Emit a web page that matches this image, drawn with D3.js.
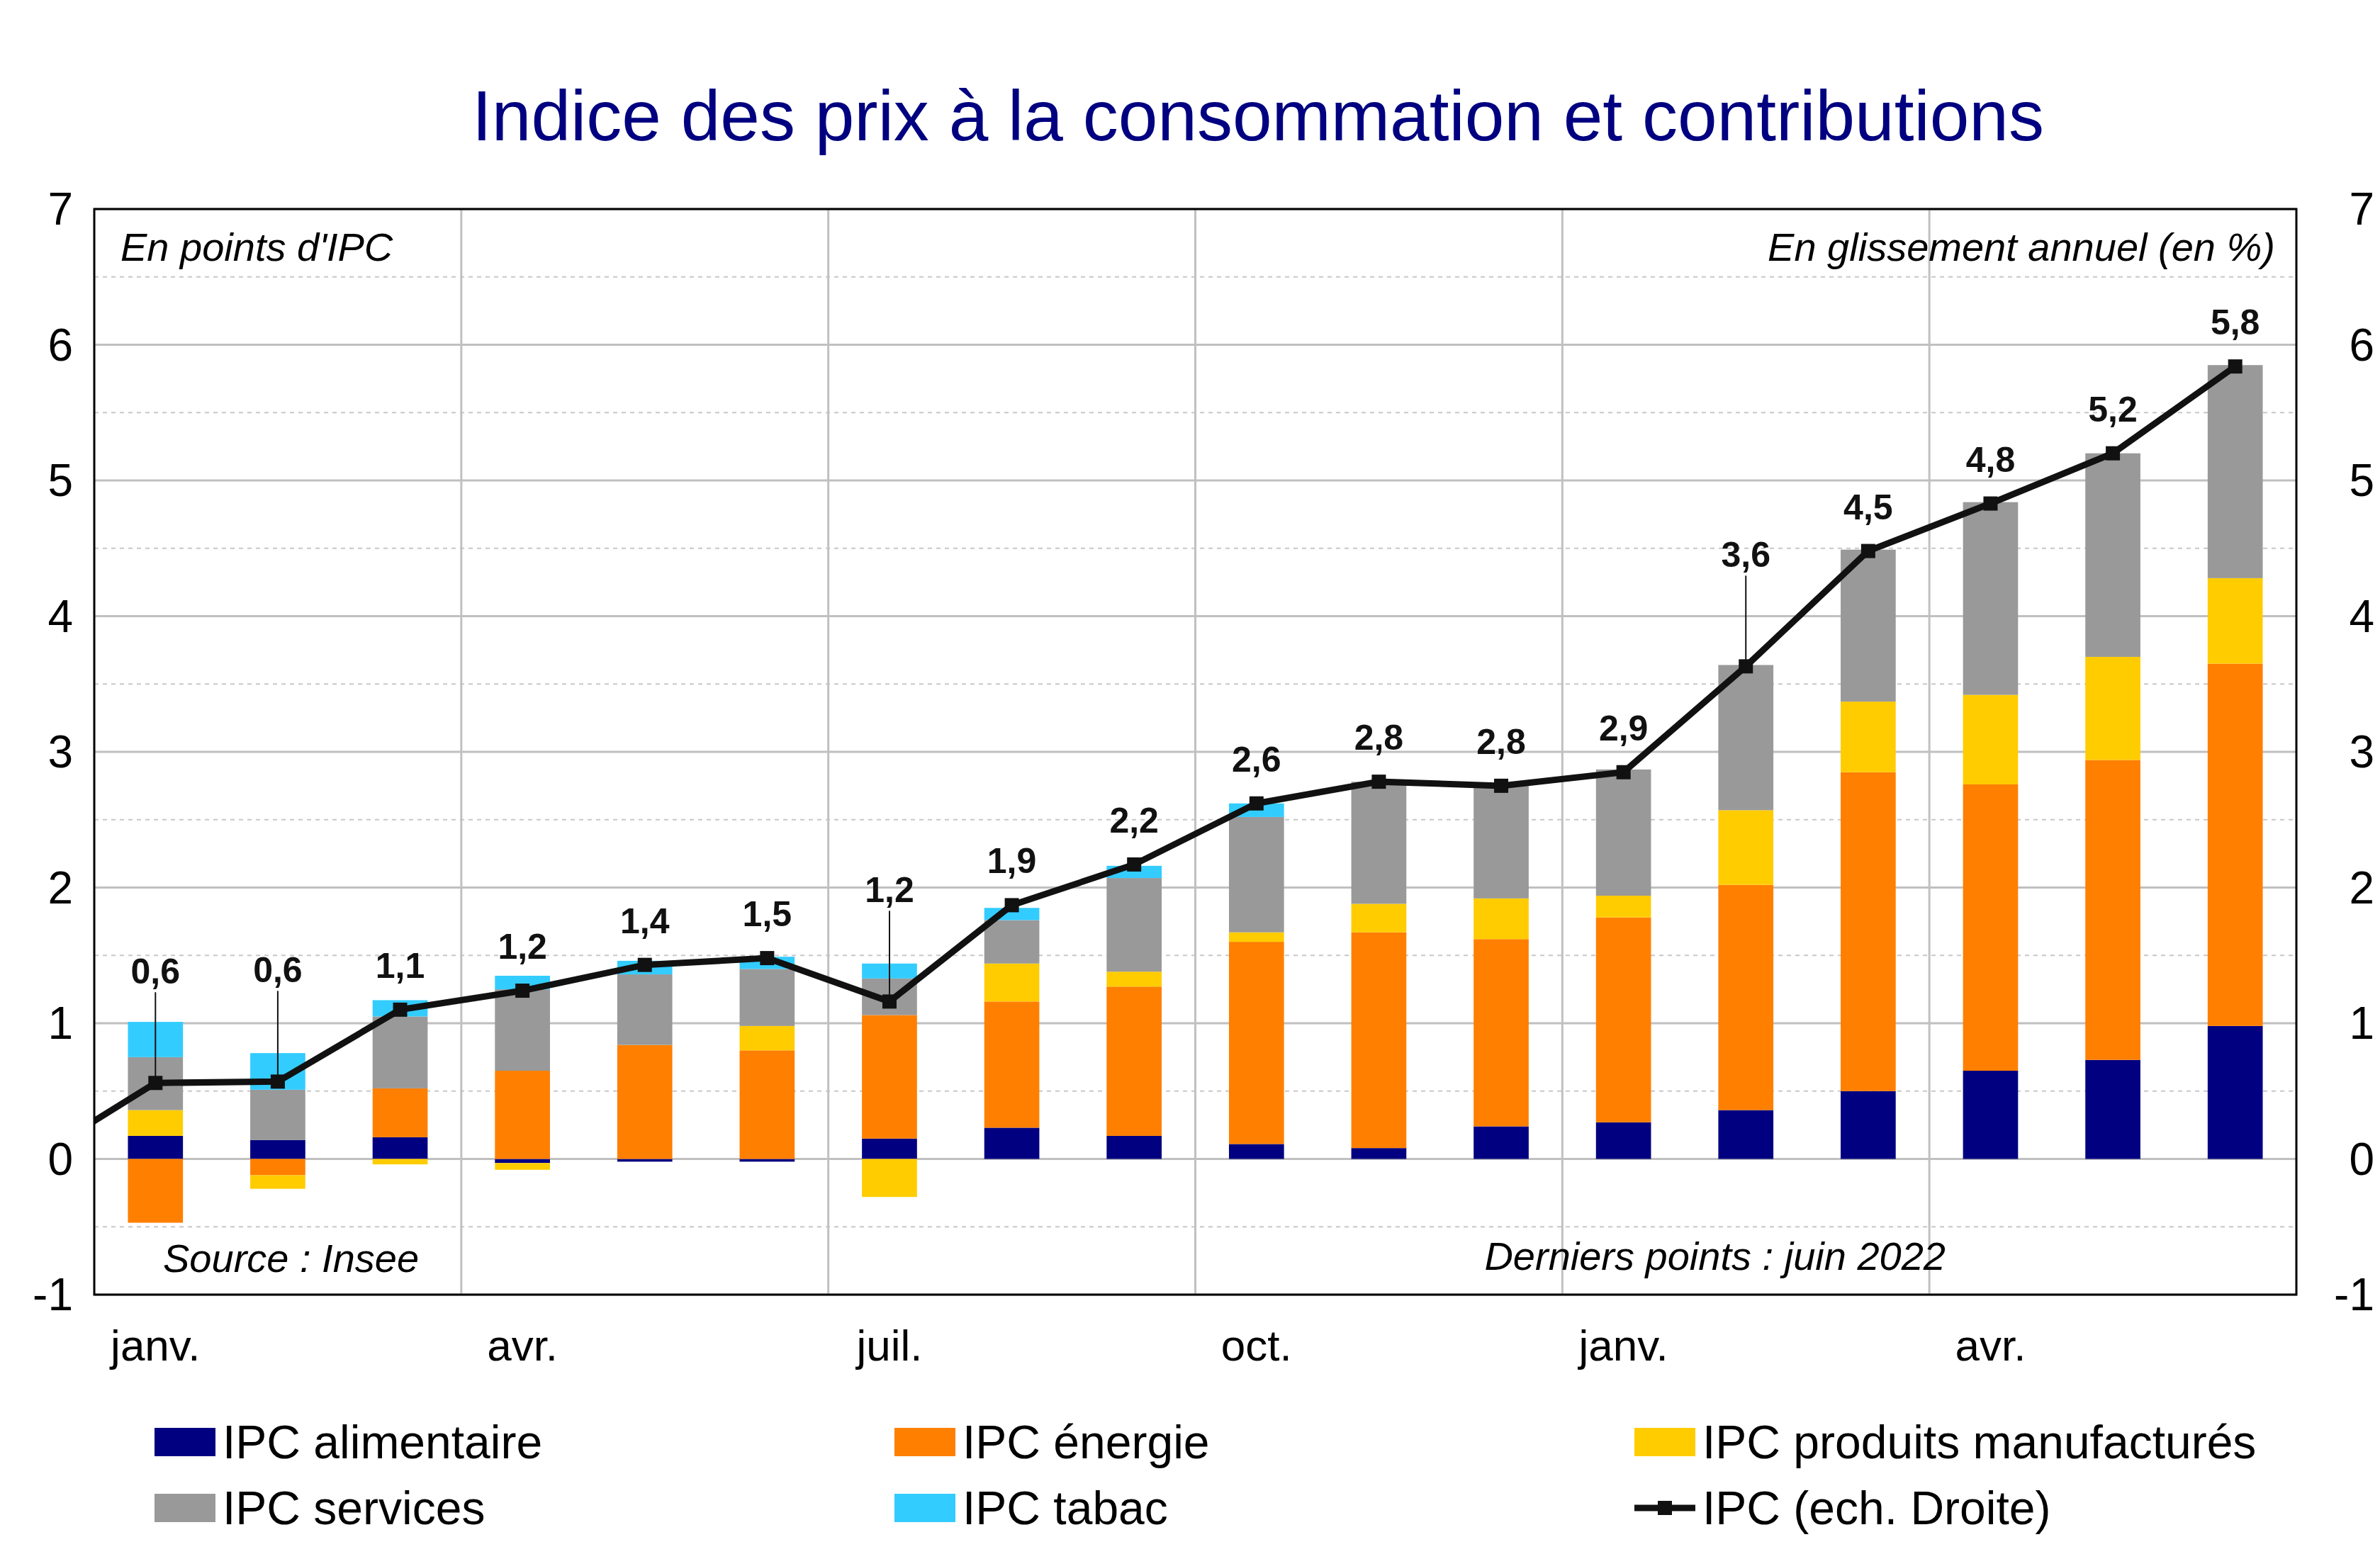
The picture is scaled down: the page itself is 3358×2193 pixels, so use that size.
<!DOCTYPE html>
<html><head><meta charset="utf-8">
<script src="https://cdn.jsdelivr.net/npm/d3@7"></script>
<style>body{margin:0;background:#fff}svg{font-family:Arial,"Liberation Sans",sans-serif}</style>
</head><body><svg id="chart" width="3358" height="2193"></svg>
<script>
// monthly contributions, janv. 2021 -> juin 2022
var months = ["janv.","févr.","mars","avr.","mai","juin","juil.","août","sept.","oct.","nov.","déc.","janv.","févr.","mars","avr.","mai","juin"];
var alim   = [0.17,0.14,0.16,-0.03,-0.02,-0.02,0.15,0.23,0.17,0.11,0.08,0.24,0.27,0.36,0.50,0.65,0.73,0.98];
var energie= [-0.47,-0.12,0.36,0.65,0.84,0.80,0.91,0.93,1.10,1.49,1.59,1.38,1.51,1.66,2.35,2.11,2.21,2.67];
var manuf  = [0.19,-0.10,-0.04,-0.05,0.0,0.18,-0.28,0.28,0.11,0.07,0.21,0.30,0.16,0.55,0.52,0.66,0.76,0.63];
var services=[0.39,0.37,0.53,0.60,0.52,0.42,0.27,0.32,0.69,0.85,0.90,0.84,0.93,1.07,1.12,1.42,1.50,1.57];
var tabac  = [0.26,0.27,0.12,0.10,0.10,0.09,0.11,0.09,0.09,0.10,0.0,0.0,0.0,0.0,0.0,0.0,0.0,0.0];
var ipc    = [0.56,0.57,1.10,1.24,1.43,1.48,1.16,1.87,2.17,2.62,2.78,2.75,2.85,3.63,4.48,4.83,5.20,5.84];
var ipcDec2020 = 0.0;
var ipcLabels = ["0,6","0,6","1,1","1,2","1,4","1,5","1,2","1,9","2,2","2,6","2,8","2,8","2,9","3,6","4,5","4,8","5,2","5,8"];
var tickLabelIdx = [0,3,6,9,12,15];
var yTicks = [-1,0,1,2,3,4,5,6,7];

var seriesNames = ["IPC alimentaire","IPC énergie","IPC produits manufacturés","IPC services","IPC tabac"];
var colors = ["#000080","#FF7F00","#FFCC00","#999999","#33CCFF"];

var svg = d3.select("#chart");
var pLeft = 133, pRight = 3240, pTop = 295, pBottom = 1827;

var x = d3.scaleBand().domain(d3.range(months.length)).range([pLeft, pRight]).paddingInner(0.55).paddingOuter(0.275);
var step = x.step();
var cx = function(i){ return x(i) + x.bandwidth()/2; };
var y = d3.scaleLinear().domain([-1,7]).range([pBottom, pTop]);

// grid
yTicks.forEach(function(t){
    svg.append("line").attr("x1",pLeft).attr("x2",pRight).attr("y1",y(t)).attr("y2",y(t))
        .style("stroke","#c0c0c0").style("stroke-width",3);
    if (t < 7) svg.append("line").attr("x1",pLeft).attr("x2",pRight).attr("y1",y(t+0.5)).attr("y2",y(t+0.5))
        .style("stroke","#c8c8c8").style("stroke-width",2).style("stroke-dasharray","6,6");
});
tickLabelIdx.forEach(function(i){
    if (i === 0) return;
    var gx = cx(i) - step/2;
    svg.append("line").attr("x1",gx).attr("x2",gx).attr("y1",pTop).attr("y2",pBottom)
        .style("stroke","#c0c0c0").style("stroke-width",3);
});

// stacked bars
var rows = months.map(function(m,i){ return {i:i, a:alim[i], e:energie[i], m:manuf[i], s:services[i], t:tabac[i]}; });
var stack = d3.stack().keys(["a","e","m","s","t"]).offset(d3.stackOffsetDiverging)(rows);
stack.forEach(function(layer, k){
    svg.append("g").selectAll("rect").data(layer).enter().append("rect")
        .attr("x", function(d){ return x(d.data.i); })
        .attr("width", x.bandwidth())
        .attr("y", function(d){ return y(Math.max(d[0],d[1])); })
        .attr("height", function(d){ return Math.abs(y(d[0]) - y(d[1])); })
        .style("fill", colors[k]);
});

// line (with Dec 2020 point clipped)
svg.append("clipPath").attr("id","clip").append("rect").attr("x",pLeft).attr("y",pTop).attr("width",pRight-pLeft).attr("height",pBottom-pTop);
var pts = [[cx(0)-step, ipcDec2020]].concat(ipc.map(function(v,i){ return [cx(i), v]; }));
svg.append("path").datum(pts).attr("clip-path","url(#clip)")
    .attr("d", d3.line().x(function(d){ return d[0]; }).y(function(d){ return y(d[1]); }))
    .style("fill","none").style("stroke","#111").style("stroke-width",9);
svg.append("g").selectAll("rect").data(ipc).enter().append("rect")
    .attr("x", function(d,i){ return cx(i)-10; }).attr("y", function(d){ return y(d)-10; })
    .attr("width",20).attr("height",20).style("fill","#111");

// value labels
var liftIdx = {0:1, 1:1, 6:1, 13:1};
ipc.forEach(function(v,i){
    var ly = y(v) - (liftIdx[i] ? 140 : 45);
    if (liftIdx[i]) svg.append("line").attr("x1",cx(i)).attr("x2",cx(i)).attr("y1",ly+12).attr("y2",y(v))
        .style("stroke","#111").style("stroke-width",2);
    svg.append("text").attr("x",cx(i)).attr("y",ly).attr("text-anchor","middle")
        .style("font-size","50px").style("font-weight","bold").style("fill","#111").text(ipcLabels[i]);
});

// frame
svg.append("rect").attr("x",pLeft).attr("y",pTop).attr("width",pRight-pLeft).attr("height",pBottom-pTop)
    .style("fill","none").style("stroke","#000").style("stroke-width",3);

// axes labels
yTicks.forEach(function(t){
    svg.append("text").attr("x",pLeft-30).attr("y",y(t)+22).attr("text-anchor","end").style("font-size","64px").text(t);
    svg.append("text").attr("x",3350).attr("y",y(t)+22).attr("text-anchor","end").style("font-size","64px").text(t);
});
tickLabelIdx.forEach(function(i){
    svg.append("text").attr("x",cx(i)).attr("y",1920).attr("text-anchor","middle").style("font-size","62px").text(months[i]);
});

// titles and notes
svg.append("text").attr("x",1775).attr("y",198).attr("text-anchor","middle").style("font-size","100px").style("fill","#000080")
    .text("Indice des prix à la consommation et contributions");
var note = function(tx, ax, ay, anchor){
    svg.append("text").attr("x",ax).attr("y",ay).attr("text-anchor",anchor).style("font-size","56px").style("font-style","italic").text(tx);
};
note("En points d'IPC", 170, 368, "start");
note("En glissement annuel (en %)", 3210, 368, "end");
note("Source : Insee", 230, 1795, "start");
note("Derniers points : juin 2022", 2745, 1792, "end");

// legend
var leg = [
    {n:seriesNames[0], c:colors[0], x:218, y:2035},
    {n:seriesNames[1], c:colors[1], x:1262, y:2035},
    {n:seriesNames[2], c:colors[2], x:2306, y:2035},
    {n:seriesNames[3], c:colors[3], x:218, y:2128},
    {n:seriesNames[4], c:colors[4], x:1262, y:2128},
    {n:"IPC (ech. Droite)", c:null, x:2306, y:2128}
];
leg.forEach(function(d){
    if (d.c) svg.append("rect").attr("x",d.x).attr("y",d.y-20).attr("width",86).attr("height",40).style("fill",d.c);
    else {
        svg.append("line").attr("x1",d.x).attr("x2",d.x+86).attr("y1",d.y).attr("y2",d.y).style("stroke","#111").style("stroke-width",9);
        svg.append("rect").attr("x",d.x+33).attr("y",d.y-10).attr("width",20).attr("height",20).style("fill","#111");
    }
    svg.append("text").attr("x",d.x+96).attr("y",d.y+23).style("font-size","66px").text(d.n);
});
</script></body></html>
